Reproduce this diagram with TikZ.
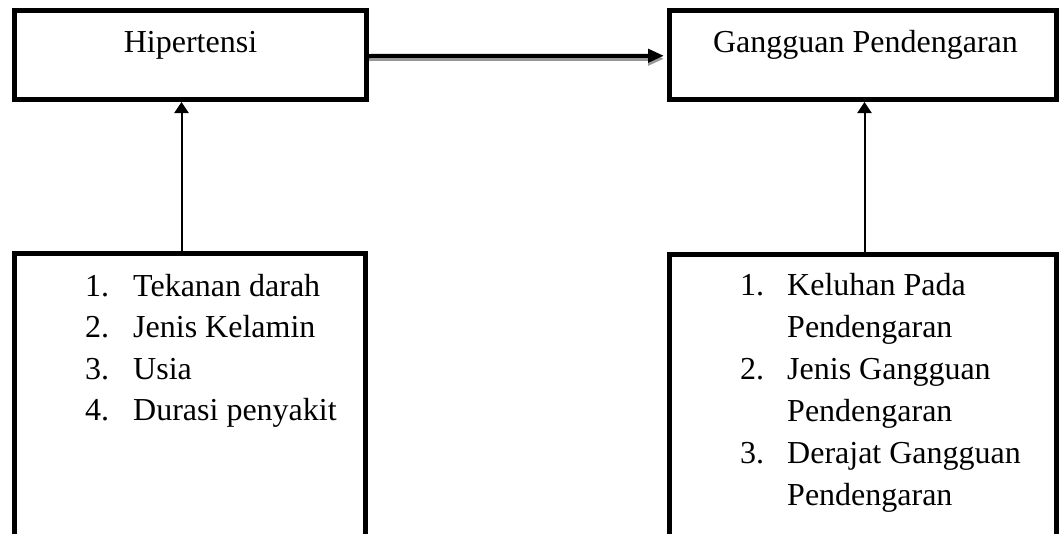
\documentclass[tikz,border=0pt]{standalone}
\usepackage{fontspec}
\setmainfont{Liberation Serif}
\usetikzlibrary{arrows.meta}
\begin{document}
\begin{tikzpicture}[x=1pt,y=-1pt,
  box/.style={draw=black, line width=5pt, rectangle, inner sep=0pt},
  lbl/.style={inner sep=0pt, anchor=base west, font=\fontsize{32}{40}\selectfont},
  ctr/.style={inner sep=0pt, anchor=base, font=\fontsize{32}{40}\selectfont},
  harrow/.style={line width=4pt, -{Triangle[length=16pt,width=13pt]}, shorten >=3pt},
  hshadow/.style={line width=4pt, draw=black!40, -{Triangle[length=16pt,width=13pt]}, shorten >=3pt},
  varrow/.style={line width=2pt, -{Triangle[length=11pt,width=14pt]}}
]
\useasboundingbox (0,0) rectangle (1059,533);
% top boxes
\node[box, minimum width=352pt, minimum height=89pt] (hip) at (190.5,55) {};
\node[box, minimum width=387pt, minimum height=89.5pt] (gg) at (863,54.75) {};
\node[ctr] (hipt) at (190.5,52) {Hipertensi};
\node[ctr] (ggt) at (865.5,52) {Gangguan Pendengaran};
% bottom boxes (open below the page edge)
\node[box, minimum width=351pt, minimum height=346pt] (bl) at (190,426.5) {};
\node[box, minimum width=387pt, minimum height=346pt] (br) at (863,427.5) {};
% left list
\node[lbl] (l1n) at (85,296) {1.};   \node[lbl] (l1) at (133,296) {Tekanan darah};
\node[lbl] (l2n) at (85,337.5) {2.}; \node[lbl] (l2) at (133,337.5) {Jenis Kelamin};
\node[lbl] (l3n) at (85,379) {3.};   \node[lbl] (l3) at (133,379) {Usia};
\node[lbl] (l4n) at (85,420.5) {4.}; \node[lbl] (l4) at (133,420.5) {Durasi penyakit};
% right list
\node[lbl] (r1n) at (740,295.5) {1.}; \node[lbl] (r1) at (787,295.5) {Keluhan Pada};
\node[lbl] (r1b) at (787,337.5) {Pendengaran};
\node[lbl] (r2n) at (740,379.5) {2.}; \node[lbl] (r2) at (787,379.5) {Jenis Gangguan};
\node[lbl] (r2b) at (787,421.5) {Pendengaran};
\node[lbl] (r3n) at (740,463.5) {3.}; \node[lbl] (r3) at (787,463.5) {Derajat Gangguan};
\node[lbl] (r3b) at (787,505.5) {Pendengaran};
% connectors
\draw[hshadow] ([yshift=-4pt]hip.east) -- ([yshift=-4pt]gg.west);
\draw[harrow] ([yshift=-1pt]hip.east) -- ([yshift=-1pt]gg.west);
\draw[varrow] ([xshift=-8.5pt]bl.north) -- ([xshift=-9pt]hip.south);
\draw[varrow] ([xshift=1.5pt]br.north) -- ([xshift=1.5pt]gg.south);
\end{tikzpicture}
\end{document}
